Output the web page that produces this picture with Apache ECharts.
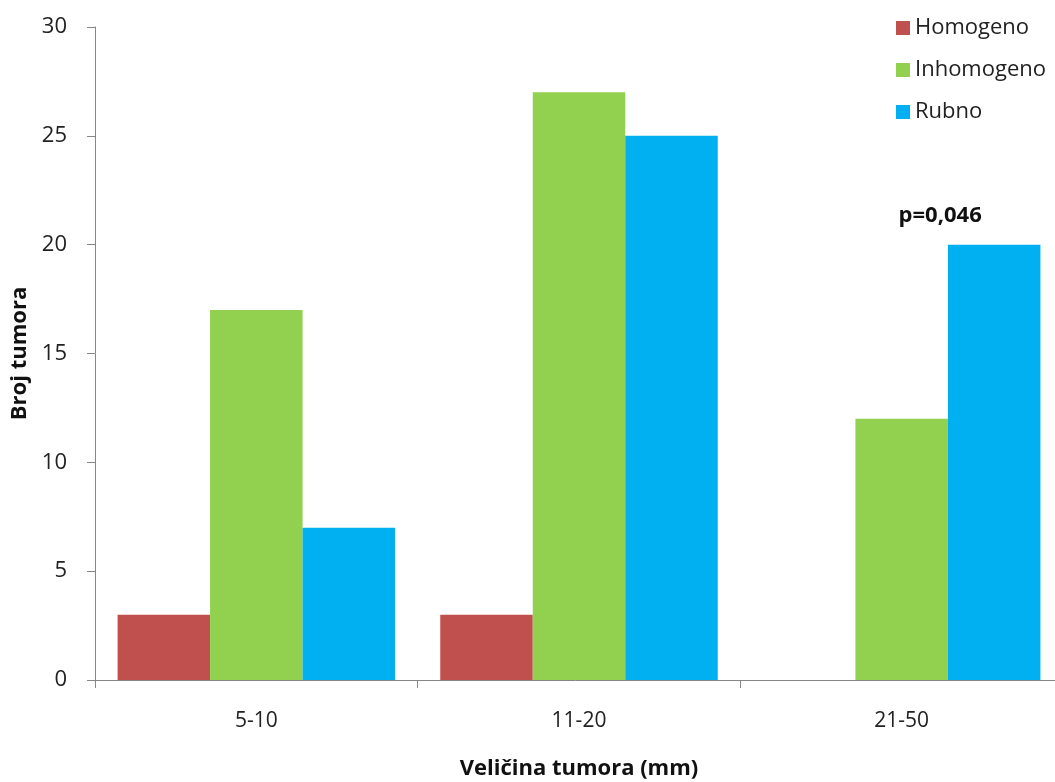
<!DOCTYPE html>
<html><head><meta charset="utf-8">
<script src="https://cdn.jsdelivr.net/npm/echarts@6/dist/echarts.min.js"></script>
<style>html,body{margin:0;padding:0;background:#fff}#c{width:1055px;height:782px}</style>
</head><body><div id="c"></div>
<script>
const categories = ['5-10', '11-20', '21-50'];
const homogeno = [3, 3, 0];
const inhomogeno = [17, 27, 12];
const rubno = [7, 25, 20];
const yTicks = [0, 5, 10, 15, 20, 25, 30];
const font = '"Liberation Sans Narrow", "Open Sans", "Noto Sans", sans-serif';

const chart = echarts.init(document.getElementById('c'));
chart.setOption({
  animation: false,
  textStyle: { fontFamily: font },
  grid: { left: 95, top: 27, width: 968, height: 653, containLabel: false, outerBoundsMode: 'none' },
  legend: {
    orient: 'vertical', left: 891, top: 12, itemWidth: 14, itemHeight: 14, itemGap: 20,
    icon: 'rect',
    textStyle: { fontSize: 22, color: '#222', fontFamily: font },
    data: ['Homogeno', 'Inhomogeno', 'Rubno']
  },
  xAxis: {
    type: 'category', data: categories,
    name: 'Veličina tumora (mm)', nameLocation: 'middle', nameGap: 78,
    nameTextStyle: { fontSize: 22, fontWeight: 'bold', color: '#111', fontFamily: font },
    axisLine: { lineStyle: { color: '#868686' } },
    axisTick: { show: true, length: 8, lineStyle: { color: '#868686' } },
    axisLabel: { fontSize: 21, color: '#222', margin: 31, fontFamily: font }
  },
  yAxis: {
    type: 'value', min: 0, max: 30, interval: 5,
    name: 'Broj tumora', nameLocation: 'middle', nameGap: 62, nameRotate: 90,
    nameTextStyle: { fontSize: 22, fontWeight: 'bold', color: '#111', fontFamily: font },
    axisLine: { show: true, lineStyle: { color: '#868686' } },
    axisTick: { show: true, length: 8, lineStyle: { color: '#868686' } },
    axisLabel: { fontSize: 22, color: '#222', margin: 28, fontFamily: font },
    splitLine: { show: false }
  },
  series: [
    { name: 'Homogeno', type: 'bar', data: homogeno, itemStyle: { color: '#C0504D' }, barGap: '0%', barCategoryGap: '14%' },
    { name: 'Inhomogeno', type: 'bar', data: inhomogeno, itemStyle: { color: '#92D050' } },
    { name: 'Rubno', type: 'bar', data: rubno, itemStyle: { color: '#00B0F0' },
      label: { show: true, position: 'top', distance: 18,
        formatter: p => p.dataIndex === 2 ? 'p=0,046' : '',
        fontSize: 22, fontWeight: 'bold', color: '#111', fontFamily: font, offset: [-54, 0] } }
  ]
});
</script></body></html>
